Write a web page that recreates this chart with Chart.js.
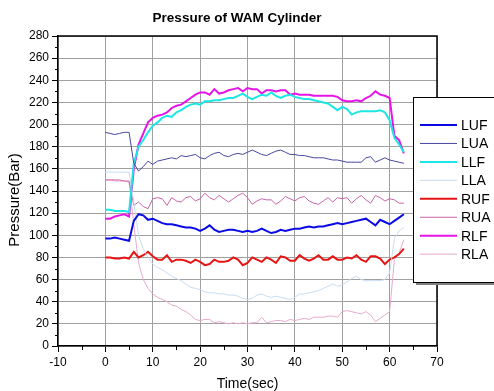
<!DOCTYPE html>
<html>
<head>
<meta charset="utf-8">
<script src="https://cdn.jsdelivr.net/npm/chart.js@4.4.0/dist/chart.umd.min.js"></script>
<style>
  body { margin: 0; background: #fff; }
</style>
</head>
<body>
<canvas id="myChart" width="494" height="391"></canvas>
<script>
const times = [0,1,2,3,4,5,6,7,8,9,10,11,12,13,14,15,16,17,18,19,20,21,22,23,24,25,26,27,28,29,30,31,
  32,33,34,35,36,37,38,39,40,41,42,43,44,45,46,47,48,49,50,51,52,53,54,55,56,57,58,59,60,61,62,63];

const luf = [97,97,98,97,96,95,113,119,118,114,115,113,111,110,110,109,108,107,107,106,104,106,109,105,103,104,105,105,104,103,104,103,
  104,106,104,102,103,105,104,105,106,106,107,108,107,108,108,109,110,111,110,111,112,113,114,115,112,109,114,112,110,113,116,119];
const lua = [193,192,191,192,193,193,165,158,162,167,164,167,168,169,170,169,172,171,172,173,170,169,172,174,175,172,171,173,174,173,175,177,
  175,173,172,174,176,177,175,173,173,172,172,171,170,170,170,169,168,168,167,166,166,166,166,170,171,166,168,170,168,167,166,165];
const llf = [123,123,122,122,122,121,165,180,186,193,199,202,206,208,207,211,213,216,218,219,218,221,221,222,222,223,224,224,226,228,225,223,
  225,227,226,229,226,224,226,227,225,224,223,223,222,221,220,219,216,213,216,214,209,211,212,212,212,212,213,211,204,188,182,175];
const lla = [157,157,157,157,157,157,130,100,88,80,74,71,69,66,63,61,59,56,53,52,51,49,48,48,47,47,46,46,45,43,42,43,
  46,47,45,44,45,44,43,42,44,47,47,48,49,50,52,54,56,54,55,58,61,63,60,59,59,59,59,60,66,97,104,107];
const ruf = [80,80,79,79,80,79,85,80,82,85,81,78,78,82,76,78,78,77,75,78,76,73,74,78,76,76,77,80,78,73,75,80,
  78,76,80,78,75,81,80,77,77,82,79,77,79,82,78,78,81,78,78,80,79,82,78,76,81,81,79,74,78,80,83,88];
const rua = [150,150,150,150,149,149,127,130,126,124,133,134,133,127,134,131,130,134,135,131,133,138,134,132,136,133,130,133,136,138,134,128,
  131,133,132,132,128,131,135,133,131,134,135,131,129,128,131,134,130,134,133,134,129,133,136,132,129,136,134,131,133,132,129,129];
const rlf = [115,115,117,118,119,117,160,182,192,202,206,208,209,211,215,217,218,221,224,227,229,229,227,232,228,229,231,232,233,230,233,232,
  232,228,231,231,230,231,231,227,228,227,227,227,226,226,226,226,226,225,222,221,221,222,221,224,226,230,227,226,224,190,186,174];
const rla = [150,150,149,149,149,148,110,75,60,52,47,44,42,40,37,36,33,31,28,24,23,24,24,21,22,21,20,21,20,21,20,21,
  21,26,21,22,23,23,22,24,23,24,25,24,26,26,26,27,27,26,31,32,31,30,29,31,28,22,25,28,31,78,84,96];

const seriesNames = ['LUF','LUA','LLF','LLA','RUF','RUA','RLF','RLA'];
const seriesValues = [luf, lua, llf, lla, ruf, rua, rlf, rla];
const seriesColors = ['#0a0ae6','#4646a0','#1ee6e6','#c8dcf0','#e61414','#c864a8','#e614e6','#e6aacc'];
const seriesWidths = [2, 1, 2, 1, 2, 1, 2, 1];

const datasets = seriesNames.map((name, i) => ({
  label: name,
  data: times.map((t, j) => ({ x: t, y: seriesValues[i][j] })),
  borderColor: seriesColors[i],
  backgroundColor: seriesColors[i],
  borderWidth: seriesWidths[i],
  pointRadius: 0,
  tension: 0,
  fill: false,
}));

const FONT = "'Liberation Sans', Arial, sans-serif";

// frame, minor ticks, titles and the boxed legend on the right
const extras = {
  id: 'extras',
  afterDatasetsDraw(chart) {
    const { ctx, chartArea: a, scales: { x, y } } = chart;
    ctx.save();
    ctx.strokeStyle = '#000';
    ctx.lineWidth = 1.5;
    ctx.beginPath();
    ctx.moveTo(a.left, a.top);
    ctx.lineTo(a.right, a.top);
    ctx.lineTo(a.right, a.bottom);
    ctx.stroke();

    ctx.lineWidth = 1;
    ctx.beginPath();
    for (let v = 10; v < 280; v += 20) {
      const py = Math.round(y.getPixelForValue(v)) + 0.5;
      ctx.moveTo(a.left - 3, py);
      ctx.lineTo(a.left, py);
    }
    for (let v = -5; v < 70; v += 10) {
      const px = Math.round(x.getPixelForValue(v)) + 0.5;
      ctx.moveTo(px, a.bottom);
      ctx.lineTo(px, a.bottom + 4);
    }
    ctx.stroke();

    ctx.fillStyle = '#000';
    ctx.textAlign = 'center';
    ctx.textBaseline = 'middle';
    ctx.font = 'bold 13.5px ' + FONT;
    ctx.fillText('Pressure of WAM Cylinder', 237, 18.5);

    ctx.save();
    ctx.translate(15, 200);
    ctx.rotate(-Math.PI / 2);
    ctx.font = '15px ' + FONT;
    ctx.fillText('Pressure(Bar)', 0, 0);
    ctx.restore();

    // legend box
    const bx = 413, by = 97, bw = 100, bh = 185;
    ctx.fillStyle = '#808080';
    ctx.fillRect(bx + 3, by + 3, bw, bh);
    ctx.fillStyle = '#fff';
    ctx.fillRect(bx, by, bw, bh);
    ctx.strokeStyle = '#000';
    ctx.lineWidth = 1;
    ctx.strokeRect(bx + 0.5, by + 0.5, bw, bh);

    ctx.font = '14px ' + FONT;
    ctx.textAlign = 'left';
    chart.data.datasets.forEach((ds, i) => {
      const ly = 125 + i * 18.45;
      ctx.strokeStyle = ds.borderColor;
      ctx.lineWidth = ds.borderWidth;
      ctx.beginPath();
      ctx.moveTo(420, ly);
      ctx.lineTo(457, ly);
      ctx.stroke();
      ctx.fillStyle = '#000';
      ctx.fillText(ds.label, 461, ly + 1);
    });
    ctx.restore();
  }
};

new Chart(document.getElementById('myChart'), {
  type: 'line',
  data: { datasets },
  options: {
    responsive: false,
    animation: false,
    devicePixelRatio: 1,
    layout: { padding: { left: 0, right: 57, top: 36, bottom: 0 } },
    plugins: {
      legend: { display: false },
      title: { display: false },
      tooltip: { enabled: false },
    },
    scales: {
      x: {
        type: 'linear',
        min: -10,
        max: 70,
        ticks: { stepSize: 10, color: '#000', font: { size: 12, family: FONT }, padding: 3, maxRotation: 0 },
        grid: { color: '#a0a0a0', tickColor: '#000', tickLength: 6 },
        border: { color: '#000', width: 1.5 },
        title: { display: true, text: 'Time(sec)', color: '#000', font: { size: 14, family: FONT, lineHeight: 1 }, padding: { top: 0, bottom: 0 } },
        afterFit: s => { s.height = 45; },
      },
      y: {
        min: 0,
        max: 280,
        ticks: { stepSize: 20, color: '#000', font: { size: 12, family: FONT }, padding: 3 },
        grid: { color: '#a0a0a0', tickColor: '#000', tickLength: 6 },
        border: { color: '#000', width: 1.5 },
        afterFit: s => { s.width = 58; },
      },
    },
  },
  plugins: [extras],
});
</script>
</body>
</html>
